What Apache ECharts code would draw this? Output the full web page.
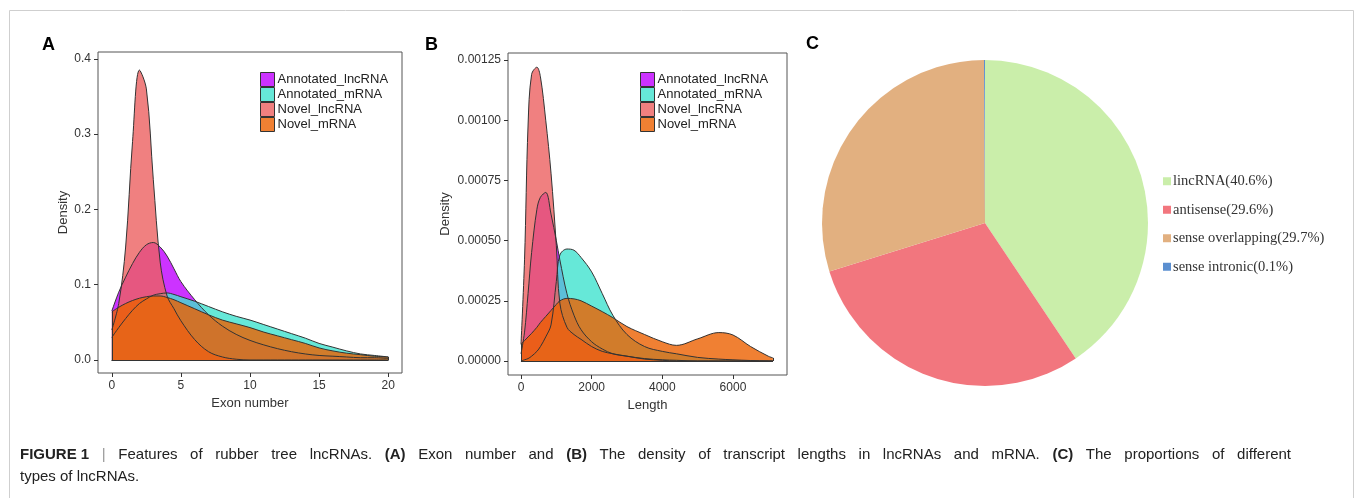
<!DOCTYPE html>
<html>
<head>
<meta charset="utf-8">
<title>Features of rubber tree lncRNAs</title>
<script src="https://cdn.jsdelivr.net/npm/echarts@6/dist/echarts.min.js"></script>
<style>
html,
body,
#main {
  margin: 0;
  padding: 0;
  width: 100%;
  height: 100%;
  overflow: hidden;
  background: #fff;
}
</style>
</head>
<body>
<div id="main"></div>
<script>
// 四个分组
const groupNames = ["Annotated_lncRNA", "Annotated_mRNA", "Novel_lncRNA", "Novel_mRNA"];
const groupColors = ["#bf00ff", "#40e2ce", "#ec6060", "#ec6000"];
const legendColors = ["#cc33ff", "#66e8d8", "#f08080", "#f08033"];

// A: exon number density
const exonX = [0, 0.5, 1, 1.5, 2, 2.5, 3, 3.5, 4, 4.5, 5, 6, 7, 8, 9, 10, 11, 12, 13, 14, 15, 16, 17, 18, 19, 20];
const exonAnnotatedLnc = [0.065, 0.09, 0.11, 0.128, 0.143, 0.153, 0.156, 0.15, 0.138, 0.121, 0.104, 0.08, 0.06, 0.045, 0.034, 0.026, 0.02, 0.015, 0.011, 0.008, 0.006, 0.005, 0.004, 0.003, 0.003, 0.002];
const exonAnnotatedM = [0.03, 0.043, 0.055, 0.066, 0.075, 0.081, 0.086, 0.088, 0.089, 0.087, 0.084, 0.078, 0.071, 0.064, 0.058, 0.053, 0.047, 0.041, 0.035, 0.029, 0.022, 0.017, 0.012, 0.008, 0.006, 0.004];
const exonNovelLnc = [0.04, 0.075, 0.15, 0.29, 0.385, 0.36, 0.24, 0.13, 0.085, 0.068, 0.052, 0.027, 0.011, 0.004, 0.001, 0, 0, 0, 0, 0, 0, 0, 0, 0, 0, 0];
const exonNovelM = [0.064, 0.07, 0.075, 0.079, 0.082, 0.084, 0.085, 0.085, 0.083, 0.08, 0.076, 0.068, 0.06, 0.053, 0.048, 0.043, 0.037, 0.032, 0.027, 0.022, 0.016, 0.012, 0.009, 0.007, 0.005, 0.004];
const exonXTicks = [0, 5, 10, 15, 20];
const exonYTicks = [0, 0.1, 0.2, 0.3, 0.4];

// B: transcript length density
const lengthX = [0, 100, 200, 300, 450, 550, 700, 850, 1000, 1100, 1300, 1500, 1700, 2000, 2300, 2600, 3000, 3500, 4000, 4400, 5000, 5600, 6000, 6500, 7000, 7130];
const lenAnnotatedLnc = [0.00003, 0.00012, 0.00028, 0.00045, 0.00063, 0.00068, 0.0007, 0.00061, 0.0005, 0.00042, 0.00028, 0.00019, 0.00013, 0.00008, 0.00005, 0.00003, 0.00002, 0.00001, 0.000005, 0.000003, 0, 0, 0, 0, 0, 0];
const lenAnnotatedM = [0, 0.000005, 0.00001, 0.00002, 0.00004, 0.00006, 0.0001, 0.00015, 0.00033, 0.00044, 0.000465, 0.00046, 0.00043, 0.00037, 0.00028, 0.00019, 0.00011, 0.00006, 0.00004, 0.00003, 0.000015, 0.000008, 0.000005, 0.000002, 0, 0];
const lenNovelLnc = [0.00007, 0.00042, 0.00098, 0.00119, 0.00122, 0.00118, 0.001, 0.00078, 0.00048, 0.00024, 0.00014, 0.00011, 0.00009, 0.00006, 0.00004, 0.00003, 0.00002, 0.000008, 0.000003, 0, 0, 0, 0, 0, 0, 0];
const lenNovelM = [0.00007, 0.000085, 0.0001, 0.000115, 0.00014, 0.00016, 0.000185, 0.00021, 0.000235, 0.00025, 0.00026, 0.000258, 0.00025, 0.000228, 0.000205, 0.00018, 0.000143, 0.00011, 0.00008, 0.000065, 0.000092, 0.000118, 0.000108, 0.00006, 0.00002, 0.000013];
const lengthXTicks = [0, 2000, 4000, 6000];
const lengthYTicks = [0, 0.00025, 0.0005, 0.00075, 0.001, 0.00125];

// C: lncRNA types
const pieNames = ["lincRNA", "antisense", "sense overlapping", "sense intronic"];
const pieValues = [40.6, 29.6, 29.7, 0.1];
const pieColors = ["#caeeaa", "#f2767e", "#e2b080", "#5b8fd0"];

// 图注 (b = 粗体, s = 分隔符, n = 普通)
const captionWords = [
  ["FIGURE 1", "b"], ["|", "s"], ["Features", "n"], ["of", "n"], ["rubber", "n"], ["tree", "n"], ["lncRNAs.", "n"],
  ["(A)", "b"], ["Exon", "n"], ["number", "n"], ["and", "n"], ["(B)", "b"], ["The", "n"], ["density", "n"], ["of", "n"],
  ["transcript", "n"], ["lengths", "n"], ["in", "n"], ["lncRNAs", "n"], ["and", "n"], ["mRNA.", "n"], ["(C)", "b"],
  ["The", "n"], ["proportions", "n"], ["of", "n"], ["different", "n"],
];
const captionLine2 = "types of lncRNAs.";

const sans = "Liberation Sans, Arial, Helvetica, sans-serif";
const serif = "Liberation Serif, Times New Roman, serif";

// 第一行两端对齐：量出单词宽度，算出词间距
const measureCtx = document.createElement("canvas").getContext("2d");
function wordWidth(w, style) {
  measureCtx.font = (style === "b" ? "bold " : "") + "15px " + sans;
  return measureCtx.measureText(w).width;
}
const captionLeft = 20;
const captionRight = 1291;
const wordsTotal = captionWords.reduce((s, w) => s + wordWidth(w[0], w[1]), 0);
const gapWidth = (captionRight - captionLeft - wordsTotal) / (captionWords.length - 1);
const captionRich = captionWords.map((w) => "{" + w[1] + "|" + w[0] + "}").join("{g| }");

// 密度曲线 + 多边形的竖边和底边
function densitySeries(name, color, xs, ys, idx) {
  const n = xs.length - 1;
  return {
    name: name,
    type: "line",
    xAxisIndex: idx,
    yAxisIndex: idx,
    data: xs.map((x, i) => [x, ys[i]]),
    smooth: 0.35,
    showSymbol: false,
    symbol: "none",
    lineStyle: { color: "#333", width: 1 },
    itemStyle: { color: color },
    areaStyle: { color: color, opacity: 0.8 },
    silent: true,
    markLine: {
      silent: true,
      symbol: ["none", "none"],
      label: { show: false },
      lineStyle: { color: "#333", width: 1, type: "solid" },
      data: [
        [{ coord: [xs[0], 0] }, { coord: [xs[0], ys[0]] }],
        [{ coord: [xs[n], 0] }, { coord: [xs[n], ys[n]] }],
        [{ coord: [xs[0], 0] }, { coord: [xs[n], 0] }],
      ],
    },
  };
}

function valueAxis(opt) {
  return Object.assign(
    {
      type: "value",
      nameLocation: "middle",
      nameTextStyle: { fontSize: 13, color: "#333", fontFamily: sans },
      axisLine: { show: false, onZero: false },
      axisTick: { show: true, length: 4, lineStyle: { color: "#333" }, customValues: opt.ticks },
      axisLabel: { customValues: opt.ticks, fontSize: 12, color: "#333", fontFamily: sans, margin: 7, formatter: opt.fmt },
      splitLine: { show: false },
    },
    opt.extra
  );
}

const legendBase = {
  orient: "vertical",
  icon: "rect",
  padding: 0,
  itemWidth: 14,
  itemHeight: 14,
  itemGap: 0,
  selectedMode: false,
  textStyle: { fontSize: 13, lineHeight: 14, color: "#222", fontFamily: sans, padding: [0, 0, 0, -2] },
  data: groupNames.map((g, i) => ({
    name: g,
    itemStyle: { color: legendColors[i], borderColor: "#333", borderWidth: 1 },
  })),
};

let myChart = echarts.init(document.getElementById("main"));
myChart.setOption({
  backgroundColor: "#fff",
  animation: false,
  grid: [
    { left: 98, top: 52, width: 304, height: 321, show: true, borderColor: "#555", borderWidth: 1, backgroundColor: "transparent" },
    { left: 508, top: 53, width: 279, height: 322, show: true, borderColor: "#555", borderWidth: 1, backgroundColor: "transparent" },
  ],
  xAxis: [
    valueAxis({ ticks: exonXTicks, fmt: (v) => String(v), extra: { gridIndex: 0, min: -1, max: 21, name: "Exon number", nameGap: 16 } }),
    valueAxis({ ticks: lengthXTicks, fmt: (v) => String(v), extra: { gridIndex: 1, min: -368, max: 7530, name: "Length", nameGap: 15 } }),
  ],
  yAxis: [
    valueAxis({ ticks: exonYTicks, fmt: (v) => v.toFixed(1), extra: { gridIndex: 0, min: -0.0173, max: 0.409, name: "Density", nameGap: 21 } }),
    valueAxis({ ticks: lengthYTicks, fmt: (v) => v.toFixed(5), extra: { gridIndex: 1, min: -0.0000581, max: 0.001279, name: "Density", nameGap: 56 } }),
  ],
  legend: [
    Object.assign({}, legendBase, { left: 260, top: 72 }),
    Object.assign({}, legendBase, { left: 640, top: 72 }),
    {
      orient: "vertical",
      left: 1163,
      top: 173,
      padding: 0,
      icon: "rect",
      itemWidth: 8,
      itemHeight: 8,
      itemGap: 12,
      selectedMode: false,
      textStyle: { fontSize: 14.5, lineHeight: 16.5, color: "#333", fontFamily: serif, padding: [0, 0, 0, -3] },
      data: pieNames,
      formatter: (name) => name + "(" + pieValues[pieNames.indexOf(name)] + "%)",
    },
  ],
  series: [
    densitySeries(groupNames[0], groupColors[0], exonX, exonAnnotatedLnc, 0),
    densitySeries(groupNames[1], groupColors[1], exonX, exonAnnotatedM, 0),
    densitySeries(groupNames[2], groupColors[2], exonX, exonNovelLnc, 0),
    densitySeries(groupNames[3], groupColors[3], exonX, exonNovelM, 0),
    densitySeries(groupNames[0], groupColors[0], lengthX, lenAnnotatedLnc, 1),
    densitySeries(groupNames[1], groupColors[1], lengthX, lenAnnotatedM, 1),
    densitySeries(groupNames[2], groupColors[2], lengthX, lenNovelLnc, 1),
    densitySeries(groupNames[3], groupColors[3], lengthX, lenNovelM, 1),
    {
      type: "pie",
      center: [985, 223],
      radius: 163,
      startAngle: 90,
      clockwise: true,
      silent: true,
      label: { show: false },
      labelLine: { show: false },
      itemStyle: { borderWidth: 0 },
      data: pieNames.map((n, i) => ({ name: n, value: pieValues[i], itemStyle: { color: pieColors[i] } })),
    },
  ],
  graphic: [
    { type: "rect", shape: { x: 9.5, y: 10.5, width: 1344, height: 500 }, style: { fill: "none", stroke: "#cfcfcf", lineWidth: 1 }, silent: true },
    { type: "text", left: 42, top: 36, style: { text: "A", fontSize: 18, fontWeight: "bold", fontFamily: sans, fill: "#000" } },
    { type: "text", left: 425, top: 36, style: { text: "B", fontSize: 18, fontWeight: "bold", fontFamily: sans, fill: "#000" } },
    { type: "text", left: 806, top: 35, style: { text: "C", fontSize: 18, fontWeight: "bold", fontFamily: sans, fill: "#000" } },
    {
      type: "text",
      left: captionLeft,
      top: 444,
      style: {
        text: captionRich + "\n{n|" + captionLine2 + "}",
        fontSize: 15,
        lineHeight: 22,
        fontFamily: sans,
        fill: "#222",
        rich: {
          b: { fontWeight: "bold", fontSize: 15, lineHeight: 22, fontFamily: sans, fill: "#222" },
          n: { fontSize: 15, lineHeight: 22, fontFamily: sans, fill: "#222" },
          s: { fontSize: 15, lineHeight: 22, fontFamily: sans, fill: "#999" },
          g: { width: gapWidth, fontSize: 15, lineHeight: 22, fontFamily: sans },
        },
      },
    },
  ],
});

window.onresize = myChart.resize;
</script>
</body>
</html>
